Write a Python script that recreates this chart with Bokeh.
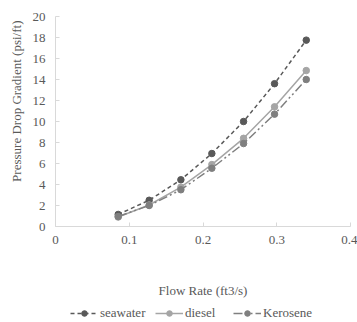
import math
from bokeh.plotting import figure
from bokeh.layouts import column
from bokeh.models import Range1d, FixedTicker, Legend, LegendItem, Title
from bokeh.embed import file_html
from bokeh.resources import INLINE

flow = [0.085, 0.127, 0.170, 0.212, 0.255, 0.297, 0.340]
seawater = [1.15, 2.5, 4.45, 6.95, 10.0, 13.6, 17.75]
diesel = [0.9, 2.05, 3.75, 5.9, 8.4, 11.4, 14.85]
kerosene = [0.95, 2.0, 3.5, 5.55, 7.9, 10.7, 14.0]
series_names = ["seawater", "diesel", "Kerosene"]
x_ticks = [0, 0.1, 0.2, 0.3, 0.4]
x_tick_labels = ["0", "0.1", "0.2", "0.3", "0.4"]
y_ticks = [0, 2, 4, 6, 8, 10, 12, 14, 16, 18, 20]
x_title = "Flow Rate (ft3/s)"
y_title = "Pressure Drop Gradient (psi/ft)"

FONT = "Liberation Serif, serif"
TXT = "#595959"

styles = [
    (seawater, "#595959", "4 3"),
    (diesel, "#A5A5A5", "solid"),
    (kerosene, "#7F7F7F", "9 3 2 3 2 3"),
]

# main chart
p = figure(width=357, height=304, output_backend="svg", toolbar_location=None,
           x_range=Range1d(0, 0.4), y_range=Range1d(0, 20),
           min_border_left=55, min_border_right=7, min_border_top=16, min_border_bottom=78)
p.outline_line_color = None
p.xgrid.grid_line_color = None
p.ygrid.grid_line_color = None
p.background_fill_color = "white"
p.border_fill_color = "white"

for ax in (p.xaxis[0], p.yaxis[0]):
    ax.axis_line_color = "#D9D9D9"
    ax.axis_line_width = 1
    ax.major_tick_line_color = "#D9D9D9"
    ax.major_tick_in = 4
    ax.major_tick_out = 0
    ax.minor_tick_line_color = None
    ax.major_label_text_font = FONT
    ax.major_label_text_font_size = "13px"
    ax.major_label_text_font_style = "normal"
    ax.major_label_text_color = TXT
    ax.axis_label_text_font = FONT
    ax.axis_label_text_font_size = "13px"
    ax.axis_label_text_font_style = "normal"
    ax.axis_label_text_color = TXT

p.xaxis.ticker = FixedTicker(ticks=x_ticks)
p.xaxis.major_label_overrides = {t: l for t, l in zip(x_ticks, x_tick_labels)}
p.xaxis.major_label_standoff = 9
p.xaxis.axis_label = x_title
p.xaxis.axis_label_standoff = 36

p.yaxis.ticker = FixedTicker(ticks=y_ticks)
p.yaxis.major_label_standoff = 10

ytitle = Title(text=y_title, align="right", offset=4, standoff=12,
               text_font=FONT, text_font_size="13px", text_font_style="normal",
               text_color=TXT)
p.add_layout(ytitle, "left")

for vals, col, dash in styles:
    p.line(flow, vals, line_color=col, line_width=1.5, line_dash=dash)
    p.scatter(flow, vals, size=6.5, fill_color=col, line_color=col)

# legend strip (same series, drawn outside its visible range so only the legend shows)
q = figure(width=357, height=18, output_backend="svg", toolbar_location=None,
           x_range=Range1d(10, 11), y_range=Range1d(10, 11),
           x_axis_type=None, y_axis_type=None,
           min_border_left=0, min_border_right=0, min_border_top=0, min_border_bottom=0)
q.outline_line_color = None
q.background_fill_color = "white"
q.border_fill_color = "white"

legend_x = [15, 100, 178]
for (vals, col, dash), name, lx in zip(styles, series_names, legend_x):
    ln = q.line(flow, vals, line_color=col, line_width=1.5, line_dash=dash)
    sc = q.scatter(flow, vals, size=6.5, fill_color=col, line_color=col)
    lg = Legend(items=[LegendItem(label=name, renderers=[ln, sc])],
                location=(lx, 1), orientation="horizontal",
                glyph_width=28, glyph_height=14, label_height=14,
                label_standoff=2, padding=0, margin=0, spacing=0,
                border_line_color=None, background_fill_alpha=0,
                label_text_font=FONT, label_text_font_size="13px",
                label_text_font_style="normal",
                label_text_color=TXT)
    q.add_layout(lg)

layout = column(p, q, spacing=0)
open("out.html", "w").write(file_html(layout, INLINE))
